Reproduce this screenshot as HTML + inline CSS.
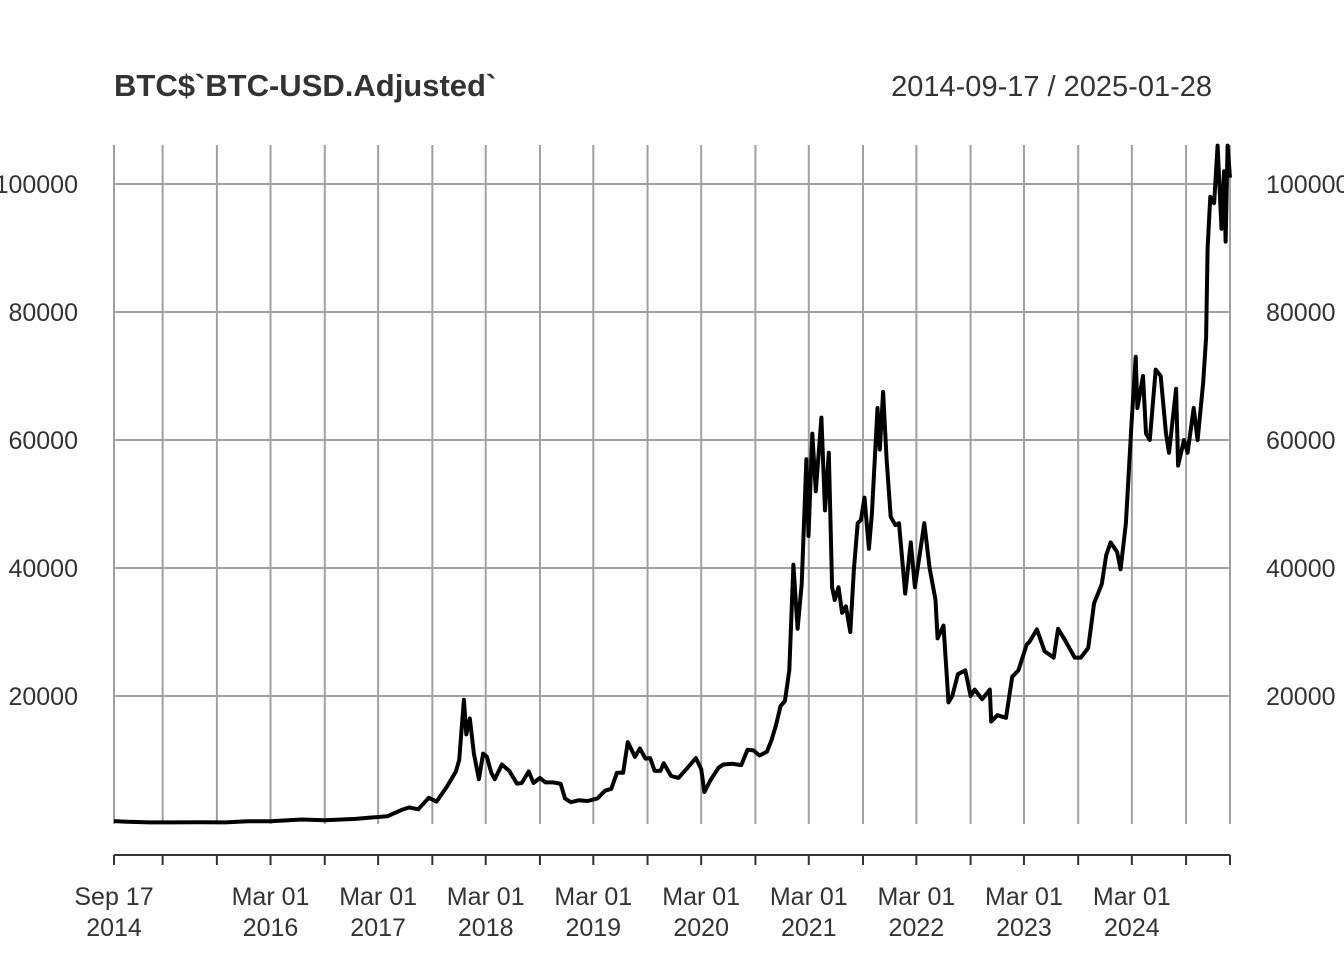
<!DOCTYPE html>
<html><head><meta charset="utf-8"><style>
body{margin:0;background:#fff}
svg{display:block}
text{font-family:"Liberation Sans",sans-serif}
</style></head><body>
<svg id="chart" width="1344" height="960" viewBox="0 0 1344 960" xmlns="http://www.w3.org/2000/svg">
<rect width="1344" height="960" fill="#fff"/>
<text x="114" y="96" font-size="31" font-weight="bold" fill="#333">BTC$`BTC-USD.Adjusted`</text>
<text x="1212" y="96" font-size="29" text-anchor="end" fill="#333">2014-09-17 / 2025-01-28</text>
<g id="grid"></g>
<g id="yaxis"></g>
<g id="xaxis"></g>
<path id="line" fill="none" stroke="#000" stroke-width="4" stroke-linejoin="round"/>
</svg>
<script>
const dates=["2014-09-17","2014-11-01","2015-01-15","2015-04-01","2015-07-01","2015-10-01","2015-12-15","2016-03-01","2016-06-15","2016-09-01","2016-12-15","2017-02-01","2017-04-01","2017-05-20","2017-06-15","2017-07-15","2017-08-20","2017-09-15","2017-10-20","2017-11-20","2017-12-01","2017-12-17","2017-12-25","2018-01-06","2018-01-20","2018-02-06","2018-02-20","2018-03-05","2018-03-20","2018-04-01","2018-04-25","2018-05-20","2018-06-15","2018-07-01","2018-07-25","2018-08-10","2018-09-01","2018-09-20","2018-10-15","2018-11-10","2018-11-25","2018-12-15","2019-01-10","2019-02-10","2019-03-15","2019-04-10","2019-05-01","2019-05-20","2019-06-10","2019-06-26","2019-07-10","2019-07-20","2019-08-06","2019-08-25","2019-09-10","2019-09-25","2019-10-15","2019-10-26","2019-11-20","2019-12-15","2020-01-15","2020-02-12","2020-03-01","2020-03-12","2020-04-01","2020-04-29","2020-05-15","2020-06-15","2020-07-15","2020-08-05","2020-08-25","2020-09-15","2020-10-10","2020-10-25","2020-11-10","2020-11-25","2020-12-10","2020-12-25","2021-01-08","2021-01-22","2021-02-05","2021-02-21","2021-02-28","2021-03-13","2021-03-25","2021-04-13","2021-04-25","2021-05-08","2021-05-19","2021-05-28","2021-06-10","2021-06-22","2021-07-05","2021-07-20","2021-08-01","2021-08-14","2021-08-25","2021-09-06","2021-09-21","2021-10-01","2021-10-20","2021-10-28","2021-11-08","2021-11-20","2021-12-04","2021-12-20","2022-01-01","2022-01-22","2022-02-10","2022-02-24","2022-03-28","2022-04-15","2022-05-05","2022-05-12","2022-06-01","2022-06-18","2022-07-01","2022-07-20","2022-08-14","2022-09-01","2022-09-15","2022-10-10","2022-11-05","2022-11-10","2022-12-01","2022-12-30","2023-01-20","2023-02-10","2023-03-10","2023-03-20","2023-04-14","2023-05-10","2023-06-10","2023-06-25","2023-07-15","2023-08-20","2023-09-10","2023-10-05","2023-10-25","2023-11-20","2023-12-05","2023-12-20","2024-01-11","2024-01-23","2024-02-10","2024-02-28","2024-03-14","2024-03-20","2024-04-08","2024-04-18","2024-05-01","2024-05-21","2024-06-07","2024-06-25","2024-07-05","2024-07-29","2024-08-05","2024-08-25","2024-09-06","2024-09-27","2024-10-10","2024-10-29","2024-11-08","2024-11-13","2024-11-22","2024-12-05","2024-12-17","2024-12-30","2025-01-08","2025-01-13","2025-01-20","2025-01-28"];
const values=[450,350,250,250,270,250,430,430,700,600,800,1000,1200,2200,2600,2300,4100,3500,5800,8200,10000,19400,14000,16500,11000,7000,11000,10500,8000,7000,9300,8300,6300,6400,8200,6400,7200,6500,6500,6300,4000,3400,3700,3600,4000,5200,5500,8000,8000,12800,11500,10500,11800,10200,10300,8300,8300,9500,7500,7200,8800,10300,8600,5000,6800,8800,9300,9400,9200,11600,11500,10700,11300,13000,15500,18400,19200,24000,40500,30500,37500,57000,45000,61000,52000,63500,49000,58000,37000,35000,37000,33000,34000,30000,39800,47000,47500,51000,43000,48500,65000,58500,67500,57000,48000,46700,47000,36000,44000,37000,47000,40000,35000,29000,31000,19000,20000,23400,24000,20000,21000,19500,21000,16000,17000,16600,23000,24000,28000,28500,30400,27000,26000,30500,29000,26000,26000,27500,34500,37500,42000,44000,42500,39800,47000,62000,73000,65000,70000,61000,60000,71000,70000,61000,58000,68000,56000,60000,58000,65000,60000,69000,76000,90000,98000,97000,106000,93000,102000,91000,106000,101000];
const yTicks=[20000,40000,60000,80000,100000];
const yTickLabels=["20000","40000","60000","80000","100000"];
const xGridDates=["2014-09-17","2015-03-01","2015-09-01","2016-03-01","2016-09-01","2017-03-01","2017-09-01","2018-03-01","2018-09-01","2019-03-01","2019-09-01","2020-03-01","2020-09-01","2021-03-01","2021-09-01","2022-03-01","2022-09-01","2023-03-01","2023-09-01","2024-03-01","2024-09-01","2025-01-28"];
const xLabelDates=["2014-09-17","2016-03-01","2017-03-01","2018-03-01","2019-03-01","2020-03-01","2021-03-01","2022-03-01","2023-03-01","2024-03-01"];
const xLabels1=["Sep 17","Mar 01","Mar 01","Mar 01","Mar 01","Mar 01","Mar 01","Mar 01","Mar 01","Mar 01"];
const xLabels2=["2014","2016","2017","2018","2019","2020","2021","2022","2023","2024"];

const NS="http://www.w3.org/2000/svg";
const L=114,R=1230,T=145,B=824;
const t0=Date.parse("2014-09-17"),t1=Date.parse("2025-01-28");
const xs=d=>L+(Date.parse(d)-t0)/(t1-t0)*(R-L);
const ys=v=>B-v/20000*128;
function mk(tag,attrs,parent){const e=document.createElementNS(NS,tag);for(const k in attrs)e.setAttribute(k,attrs[k]);parent.appendChild(e);return e;}
const grid=document.getElementById('grid'),ya=document.getElementById('yaxis'),xa=document.getElementById('xaxis');
yTicks.forEach((v,i)=>{
 const l=mk('line',{x1:L,x2:R,y1:ys(v),y2:ys(v),stroke:'#a0a0a0','stroke-width':2},grid);
 
 
 const a=mk('text',{x:78,y:ys(v)+9,'font-size':25,'text-anchor':'end',fill:'#333'},ya);a.textContent=yTickLabels[i];
 
 
 const b=mk('text',{x:1266,y:ys(v)+9,'font-size':25,fill:'#333'},ya);b.textContent=yTickLabels[i];
 
 
});
xGridDates.forEach(d=>{
 const x=xs(d);
 const l=mk('line',{x1:x,x2:x,y1:T,y2:B,stroke:'#a0a0a0','stroke-width':2},grid);
 
 
 const t=mk('line',{x1:x,x2:x,y1:855,y2:865,stroke:'#333','stroke-width':2},xa);
 
 
});
const ax=mk('line',{x1:L,x2:R,y1:855,y2:855,stroke:'#333','stroke-width':2},xa);


xLabelDates.forEach((d,i)=>{
 const x=xs(d);
 const a=mk('text',{x:x,y:905,'font-size':25,'text-anchor':'middle',fill:'#333'},xa);a.textContent=xLabels1[i];
 
 
 const b=mk('text',{x:x,y:936,'font-size':25,'text-anchor':'middle',fill:'#333'},xa);b.textContent=xLabels2[i];
 
 
});
document.getElementById('line').setAttribute('d',dates.map((d,i)=>(i?'L':'M')+xs(d).toFixed(1)+','+Math.max(T,ys(values[i])).toFixed(1)).join(''));
</script>
</body></html>
